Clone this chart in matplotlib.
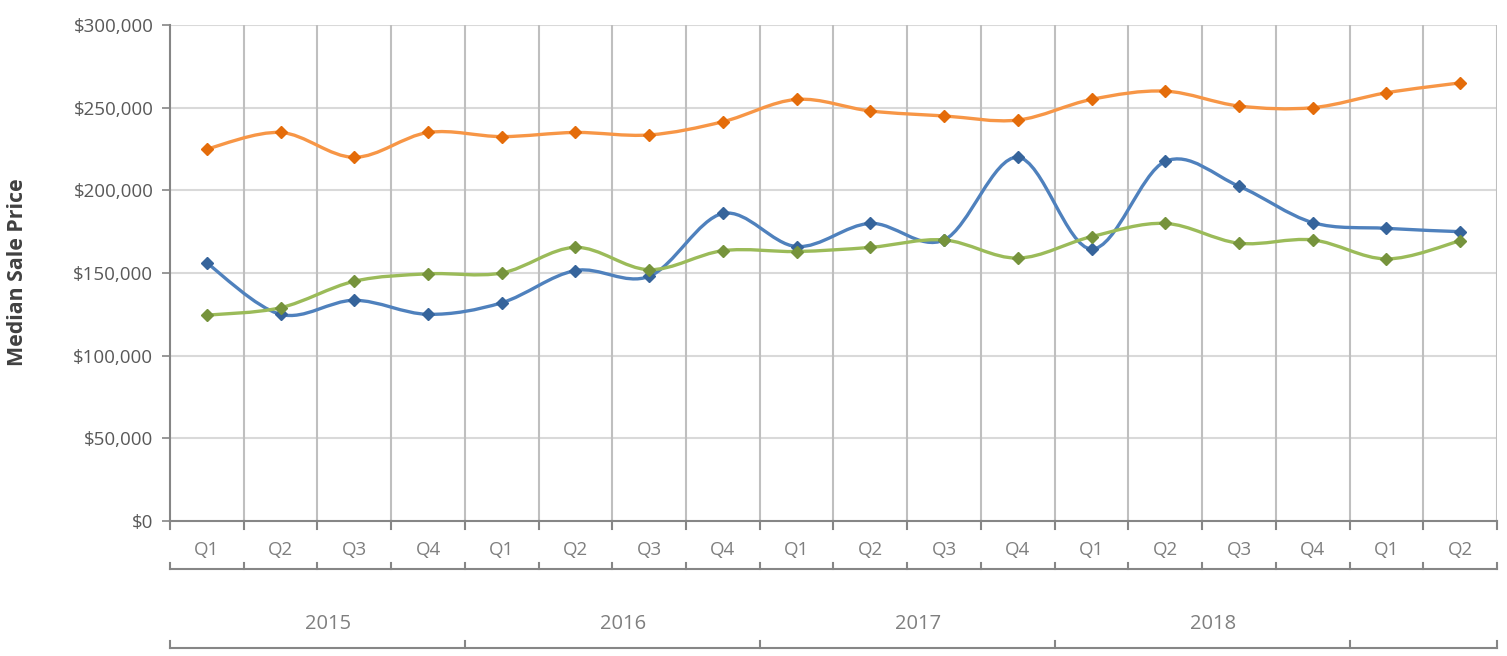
import matplotlib
matplotlib.use("Agg")
import matplotlib.pyplot as plt
from matplotlib.path import Path
from matplotlib.patches import PathPatch
from matplotlib.ticker import FuncFormatter
import numpy as np

plt.rcParams['font.family'] = ['Open Sans', 'DejaVu Sans']

quarters = ["Q1", "Q2", "Q3", "Q4"] * 4 + ["Q1", "Q2"]
years = ["2015", "2016", "2017", "2018", ""]

orange_vals = [225000, 235000, 220000, 235000, 232500, 235000, 233500, 241500, 255000,
               248000, 245000, 242500, 255000, 260000, 251000, 250000, 259000, 265000]
blue_vals = [156000, 125000, 133500, 125000, 132000, 151500, 148000, 186000, 166000,
             180000, 170000, 220000, 164500, 217500, 202500, 180500, 177000, 175000]
green_vals = [124500, 129000, 145000, 149500, 150000, 165500, 152000, 163500, 163000,
              165500, 170000, 159000, 172000, 180000, 168000, 170000, 158500, 169500]

series = [
    (orange_vals, "#f79646", "#e46c0a"),
    (blue_vals, "#4f81bd", "#36649b"),
    (green_vals, "#9bbb59", "#76933c"),
]


def smooth_path(xs, ys):
    # cubic Bezier segments through the points (Excel-style smoothed line)
    pts = np.column_stack([xs, ys]).astype(float)
    n = len(pts)
    verts = [pts[0]]
    codes = [Path.MOVETO]
    for i in range(n - 1):
        p0 = pts[max(i - 1, 0)]
        p1 = pts[i]
        p2 = pts[i + 1]
        p3 = pts[min(i + 2, n - 1)]
        c1 = p1 + (p2 - p0) / 6.0
        c2 = p2 - (p3 - p1) / 6.0
        verts += [c1, c2, p2]
        codes += [Path.CURVE4] * 3
    return Path(verts, codes)


fig = plt.figure(figsize=(15.07, 6.56), dpi=100)
ax = fig.add_axes([170 / 1507, 135 / 656, 1327 / 1507, 496 / 656])

x = np.arange(len(quarters))
for vals, lc, mc in series:
    ax.add_patch(PathPatch(smooth_path(x, vals), facecolor="none", edgecolor=lc,
                           lw=2.4, zorder=3, capstyle="round"))
    ax.plot(x, vals, linestyle="none", marker="D", markersize=6.5, color=mc, zorder=4)

ax.set_xlim(-0.5, len(quarters) - 0.5)
ax.set_ylim(0, 300000)
ax.set_yticks(np.arange(0, 300001, 50000))
ax.yaxis.set_major_formatter(FuncFormatter(lambda v, p: "${:,.0f}".format(v)))
ax.tick_params(axis="y", labelsize=13.5, labelcolor="#595959", color="#868686",
               length=6, width=1.2, pad=6)

# gridlines
for v in np.arange(50000, 300001, 50000):
    ax.axhline(v, color="#d9d9d9", lw=1.5, zorder=1)
for b in np.arange(0.5, len(quarters), 1):
    ax.axvline(b, color="#bfbfbf", lw=1.5, zorder=1)

ax.set_xticks([])
for s in ["top", "right", "bottom"]:
    ax.spines[s].set_visible(False)
ax.spines["left"].set_color("#868686")
ax.spines["left"].set_linewidth(1.5)

# multi-level category axis
trans = ax.get_xaxis_transform()
gc = "#868686"
ax.plot([-0.5, len(quarters) - 0.5], [0, 0], color=gc, lw=1.5, transform=trans, clip_on=False, zorder=5)
bounds = np.arange(-0.5, len(quarters), 1)
for b in bounds:
    ax.plot([b, b], [0, -0.016], color=gc, lw=1.5, transform=trans, clip_on=False)
    ax.plot([b, b], [-0.085, -0.097], color=gc, lw=1.5, transform=trans, clip_on=False)
ax.plot([-0.5, len(quarters) - 0.5], [-0.097, -0.097], color=gc, lw=1.5, transform=trans, clip_on=False)
for i, q in enumerate(quarters):
    ax.text(i, -0.058, q, transform=trans, ha="center", va="center",
            fontsize=13.5, color="#7f7f7f")

ybounds = [-0.5, 3.5, 7.5, 11.5, 15.5, 17.5]
for b in ybounds:
    ax.plot([b, b], [-0.242, -0.256], color=gc, lw=1.5, transform=trans, clip_on=False)
ax.plot([-0.5, len(quarters) - 0.5], [-0.256, -0.256], color=gc, lw=1.5, transform=trans, clip_on=False)
for j, yr in enumerate(years):
    ax.text((ybounds[j] + ybounds[j + 1]) / 2 + 0.15, -0.207, yr, transform=trans, ha="center",
            va="center", fontsize=14.5, color="#7f7f7f")

fig.text(18 / 1507, 1 - 272 / 656, "Median Sale Price", rotation=90, ha="center", va="center",
         fontsize=15.4, fontweight="bold", color="#404040")

fig.savefig("out.png", dpi=100)
